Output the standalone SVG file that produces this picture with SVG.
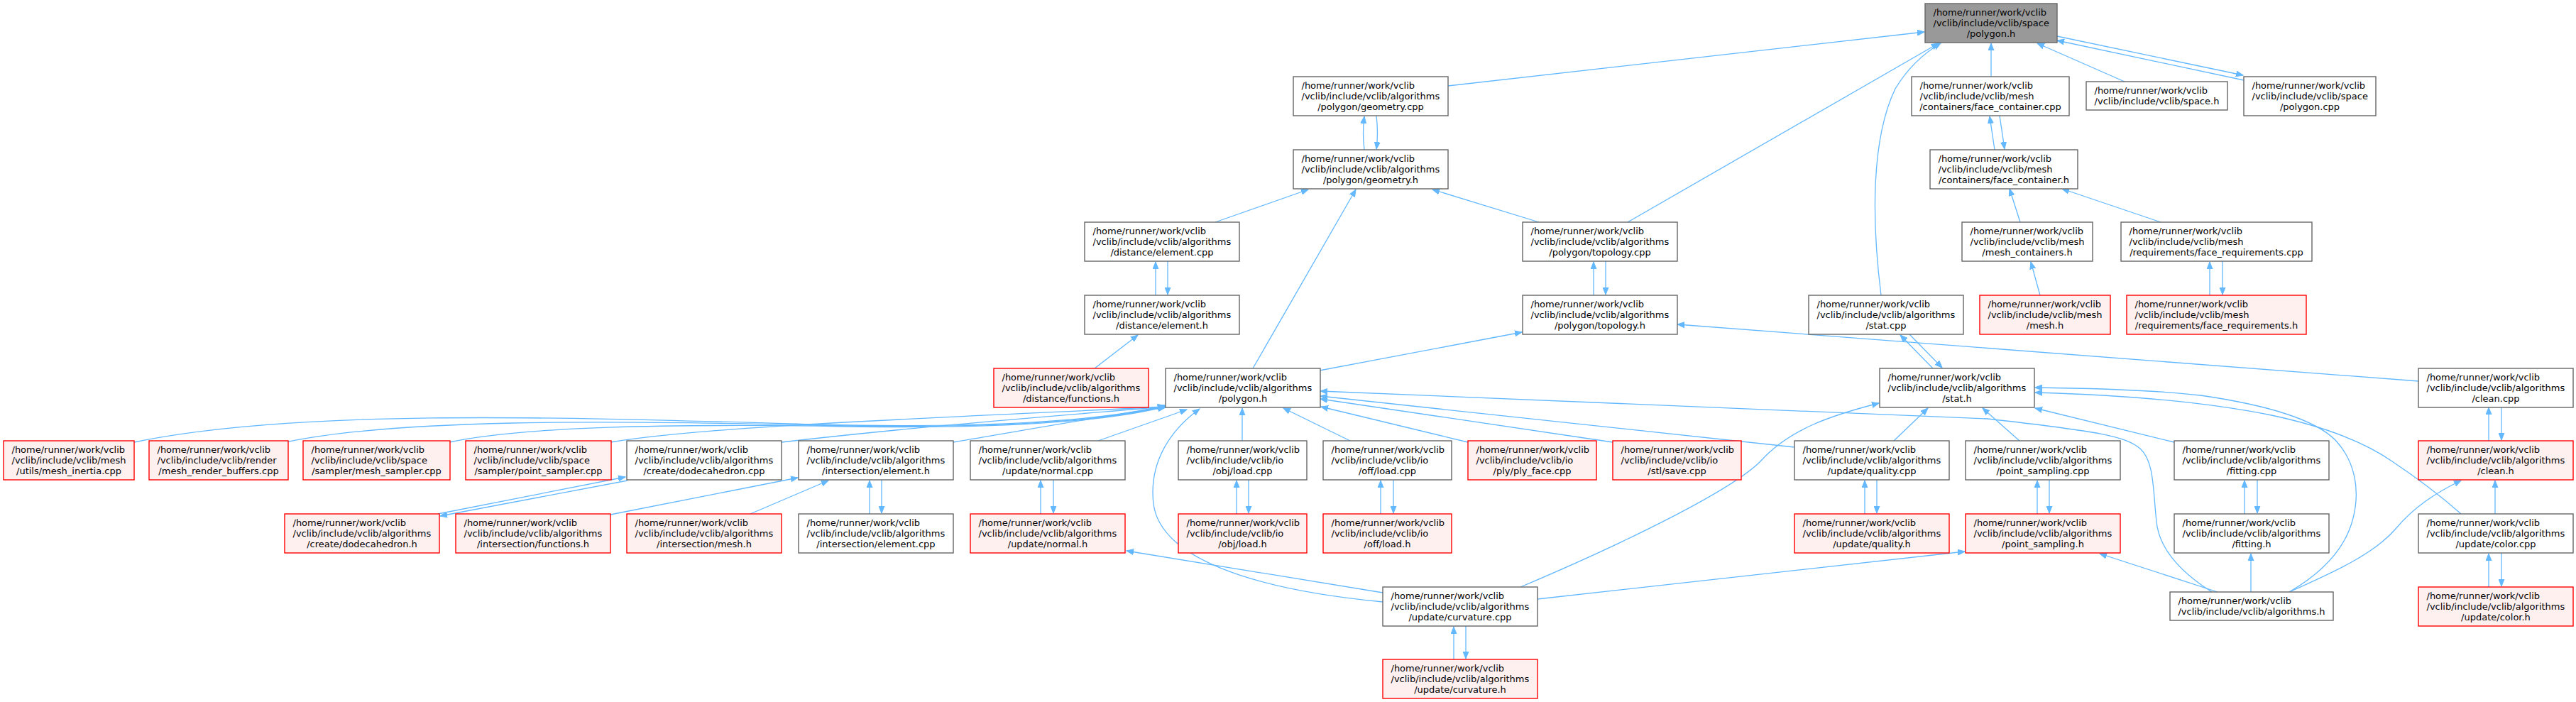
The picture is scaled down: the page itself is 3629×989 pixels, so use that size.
<svg xmlns="http://www.w3.org/2000/svg" width="3629" height="989" viewBox="0 0 3629 989">
<defs>
<marker id="ah" markerWidth="11" markerHeight="9" refX="10" refY="4.5" orient="auto" markerUnits="userSpaceOnUse"><path d="M0,0.5 L10,4.5 L0,8.5 z" fill="#63b8ff" stroke="#63b8ff" stroke-width="1"/></marker>
</defs>
<style>
.e{fill:none;stroke:#63b8ff;stroke-width:1.3;marker-end:url(#ah)}
rect.w{fill:#ffffff;stroke:#666666;stroke-width:1.4}
rect.r{fill:#fff0f0;stroke:#ff0000;stroke-width:1.4}
rect.g{fill:#999999;stroke:#666666;stroke-width:1.4}
text{font-family:"DejaVu Sans","Liberation Sans",sans-serif;font-size:13px;fill:#000000}
.c{text-anchor:middle}
</style>
<rect x="0" y="0" width="3629" height="989" fill="#ffffff"/>
<g id="edges">
<path class="e" d="M2040,121 L2711,45"/>
<path class="e" d="M2805,108 L2805,61"/>
<path class="e" d="M2993,115 L2870,61"/>
<path class="e" d="M2898,51 L3160,106"/>
<path class="e" d="M3161,113 L2898,57"/>
<path class="e" d="M2293,313 L2731,61"/>
<path class="e" d="M2650,416 C2638,320 2634,200 2670,125 C2690,92 2712,74 2734,61"/>
<path class="e" d="M1922,211 C1920,195 1920,180 1922,164"/>
<path class="e" d="M1939,163 C1941,180 1941,195 1939,210"/>
<path class="e" d="M1712,313 L1843,267"/>
<path class="e" d="M2168,313 L2018,267"/>
<path class="e" d="M1765,519 L1910,267"/>
<path class="e" d="M1628,416 L1628,369"/>
<path class="e" d="M1645,368 L1645,415"/>
<path class="e" d="M1542,519 L1603,472"/>
<path class="e" d="M2245,416 L2245,369"/>
<path class="e" d="M2262,368 L2262,415"/>
<path class="e" d="M1859,522 L2144,468"/>
<path class="e" d="M3407,537 L2363,457"/>
<path class="e" d="M2810,211 L2803,164"/>
<path class="e" d="M2817,163 L2824,210"/>
<path class="e" d="M2846,313 L2831,266"/>
<path class="e" d="M3044,313 L2905,266"/>
<path class="e" d="M2874,416 L2861,369"/>
<path class="e" d="M3113,416 L3113,369"/>
<path class="e" d="M3131,368 L3131,415"/>
<path class="e" d="M2723,519 L2677,472"/>
<path class="e" d="M2690,471 L2736,518"/>
<path class="e" d="M189,623 C420,575 800,588 1150,598 C1400,604 1560,592 1641,571"/>
<path class="e" d="M402,623 C560,590 850,592 1150,599 C1400,605 1560,593 1641,572"/>
<path class="e" d="M633,623 C740,600 950,598 1150,600 C1400,606 1560,594 1641,573"/>
<path class="e" d="M860,623 C1000,600 1300,590 1641,573"/>
<path class="e" d="M1101,623 C1300,600 1500,585 1641,573"/>
<path class="e" d="M1343,623 C1450,605 1560,585 1642,574"/>
<path class="e" d="M1547,621 L1672,577"/>
<path class="e" d="M1750,621 L1750,575"/>
<path class="e" d="M1948,848 C1760,830 1635,785 1625,710 C1618,650 1650,605 1690,576"/>
<path class="e" d="M1902,621 L1808,575"/>
<path class="e" d="M2068,623 L1861,573"/>
<path class="e" d="M2272,623 L1860,562"/>
<path class="e" d="M2528,630 L1860,558"/>
<path class="e" d="M3116,834 C3075,808 3042,775 3038,735 C3033,690 3035,650 3015,632 C2995,615 2960,608 2800,590 L1860,551"/>
<path class="e" d="M2668,621 L2716,575"/>
<path class="e" d="M2142,827 C2300,760 2440,690 2480,650 C2520,605 2580,585 2647,568"/>
<path class="e" d="M2845,621 L2793,575"/>
<path class="e" d="M3063,623 L2867,575"/>
<path class="e" d="M3225,834 C3275,805 3305,770 3315,730 C3325,690 3318,650 3290,620 C3260,590 3190,570 3100,557 C3040,550 2950,547 2867,546"/>
<path class="e" d="M3467,724 C3440,700 3400,670 3370,650 C3330,622 3270,600 3200,585 C3100,565 2980,556 2867,553"/>
<path class="e" d="M3506,621 L3506,574"/>
<path class="e" d="M3524,573 L3524,620"/>
<path class="e" d="M3515,724 L3515,677"/>
<path class="e" d="M3225,834 C3290,805 3345,780 3375,745 C3400,715 3430,695 3467,677"/>
<path class="e" d="M3506,827 L3506,780"/>
<path class="e" d="M3524,779 L3524,826"/>
<path class="e" d="M2870,724 L2870,677"/>
<path class="e" d="M2887,676 L2887,723"/>
<path class="e" d="M3162,724 L3162,677"/>
<path class="e" d="M3180,676 L3180,723"/>
<path class="e" d="M3171,834 L3171,780"/>
<path class="e" d="M3124,834 L2958,780"/>
<path class="e" d="M2166,844 L2768,777"/>
<path class="e" d="M1948,835 L1587,776"/>
<path class="e" d="M2048,929 L2048,883"/>
<path class="e" d="M2065,882 L2065,928"/>
<path class="e" d="M2627,724 L2627,677"/>
<path class="e" d="M2644,676 L2644,723"/>
<path class="e" d="M1945,724 L1945,677"/>
<path class="e" d="M1963,676 L1963,723"/>
<path class="e" d="M1742,724 L1742,677"/>
<path class="e" d="M1759,676 L1759,723"/>
<path class="e" d="M1466,724 L1466,677"/>
<path class="e" d="M1484,676 L1484,723"/>
<path class="e" d="M1225,724 L1225,677"/>
<path class="e" d="M1242,676 L1242,723"/>
<path class="e" d="M1057,724 L1167,677"/>
<path class="e" d="M860,725 L1124,673"/>
<path class="e" d="M617,724 L881,672"/>
<path class="e" d="M884,677 L620,727"/>
</g>
<g id="n0"><rect class="g" x="2712" y="5" width="186" height="55"/><text x="2723.5" y="21.5">/home/runner/work/vclib</text><text x="2723.5" y="36.5">/vclib/include/vclib/space</text><text class="c" x="2805" y="51.5">/polygon.h</text></g>
<g id="n1"><rect class="w" x="1822" y="108" width="218" height="55"/><text x="1833.5" y="124.5">/home/runner/work/vclib</text><text x="1833.5" y="139.5">/vclib/include/vclib/algorithms</text><text class="c" x="1931" y="154.5">/polygon/geometry.cpp</text></g>
<g id="n2"><rect class="w" x="2693" y="108" width="222" height="55"/><text x="2704.5" y="124.5">/home/runner/work/vclib</text><text x="2704.5" y="139.5">/vclib/include/vclib/mesh</text><text class="c" x="2804" y="154.5">/containers/face_container.cpp</text></g>
<g id="n3"><rect class="w" x="2939" y="115" width="199" height="40"/><text x="2950.5" y="131.5">/home/runner/work/vclib</text><text class="c" x="3038.5" y="146.5">/vclib/include/vclib/space.h</text></g>
<g id="n4"><rect class="w" x="3161" y="108" width="186" height="55"/><text x="3172.5" y="124.5">/home/runner/work/vclib</text><text x="3172.5" y="139.5">/vclib/include/vclib/space</text><text class="c" x="3254" y="154.5">/polygon.cpp</text></g>
<g id="n5"><rect class="w" x="1822" y="211" width="218" height="55"/><text x="1833.5" y="227.5">/home/runner/work/vclib</text><text x="1833.5" y="242.5">/vclib/include/vclib/algorithms</text><text class="c" x="1931" y="257.5">/polygon/geometry.h</text></g>
<g id="n6"><rect class="w" x="2719" y="211" width="208" height="55"/><text x="2730.5" y="227.5">/home/runner/work/vclib</text><text x="2730.5" y="242.5">/vclib/include/vclib/mesh</text><text class="c" x="2823" y="257.5">/containers/face_container.h</text></g>
<g id="n7"><rect class="w" x="1528" y="313" width="218" height="55"/><text x="1539.5" y="329.5">/home/runner/work/vclib</text><text x="1539.5" y="344.5">/vclib/include/vclib/algorithms</text><text class="c" x="1637" y="359.5">/distance/element.cpp</text></g>
<g id="n8"><rect class="w" x="2145" y="313" width="218" height="55"/><text x="2156.5" y="329.5">/home/runner/work/vclib</text><text x="2156.5" y="344.5">/vclib/include/vclib/algorithms</text><text class="c" x="2254" y="359.5">/polygon/topology.cpp</text></g>
<g id="n9"><rect class="w" x="2764" y="313" width="184" height="55"/><text x="2775.5" y="329.5">/home/runner/work/vclib</text><text x="2775.5" y="344.5">/vclib/include/vclib/mesh</text><text class="c" x="2856" y="359.5">/mesh_containers.h</text></g>
<g id="n10"><rect class="w" x="2988" y="313" width="269" height="55"/><text x="2999.5" y="329.5">/home/runner/work/vclib</text><text x="2999.5" y="344.5">/vclib/include/vclib/mesh</text><text class="c" x="3122.5" y="359.5">/requirements/face_requirements.cpp</text></g>
<g id="n11"><rect class="w" x="1528" y="416" width="218" height="55"/><text x="1539.5" y="432.5">/home/runner/work/vclib</text><text x="1539.5" y="447.5">/vclib/include/vclib/algorithms</text><text class="c" x="1637" y="462.5">/distance/element.h</text></g>
<g id="n12"><rect class="w" x="2145" y="416" width="218" height="55"/><text x="2156.5" y="432.5">/home/runner/work/vclib</text><text x="2156.5" y="447.5">/vclib/include/vclib/algorithms</text><text class="c" x="2254" y="462.5">/polygon/topology.h</text></g>
<g id="n13"><rect class="w" x="2548" y="416" width="218" height="55"/><text x="2559.5" y="432.5">/home/runner/work/vclib</text><text x="2559.5" y="447.5">/vclib/include/vclib/algorithms</text><text class="c" x="2657" y="462.5">/stat.cpp</text></g>
<g id="n14"><rect class="r" x="2789" y="416" width="184" height="55"/><text x="2800.5" y="432.5">/home/runner/work/vclib</text><text x="2800.5" y="447.5">/vclib/include/vclib/mesh</text><text class="c" x="2881" y="462.5">/mesh.h</text></g>
<g id="n15"><rect class="r" x="2996" y="416" width="253" height="55"/><text x="3007.5" y="432.5">/home/runner/work/vclib</text><text x="3007.5" y="447.5">/vclib/include/vclib/mesh</text><text class="c" x="3122.5" y="462.5">/requirements/face_requirements.h</text></g>
<g id="n16"><rect class="r" x="1400" y="519" width="218" height="55"/><text x="1411.5" y="535.5">/home/runner/work/vclib</text><text x="1411.5" y="550.5">/vclib/include/vclib/algorithms</text><text class="c" x="1509" y="565.5">/distance/functions.h</text></g>
<g id="n17"><rect class="w" x="1642" y="519" width="218" height="55"/><text x="1653.5" y="535.5">/home/runner/work/vclib</text><text x="1653.5" y="550.5">/vclib/include/vclib/algorithms</text><text class="c" x="1751" y="565.5">/polygon.h</text></g>
<g id="n18"><rect class="w" x="2648" y="519" width="218" height="55"/><text x="2659.5" y="535.5">/home/runner/work/vclib</text><text x="2659.5" y="550.5">/vclib/include/vclib/algorithms</text><text class="c" x="2757" y="565.5">/stat.h</text></g>
<g id="n19"><rect class="w" x="3407" y="519" width="218" height="55"/><text x="3418.5" y="535.5">/home/runner/work/vclib</text><text x="3418.5" y="550.5">/vclib/include/vclib/algorithms</text><text class="c" x="3516" y="565.5">/clean.cpp</text></g>
<g id="n20"><rect class="r" x="5" y="621" width="184" height="55"/><text x="16.5" y="637.5">/home/runner/work/vclib</text><text x="16.5" y="652.5">/vclib/include/vclib/mesh</text><text class="c" x="97" y="667.5">/utils/mesh_inertia.cpp</text></g>
<g id="n21"><rect class="r" x="210" y="621" width="196" height="55"/><text x="221.5" y="637.5">/home/runner/work/vclib</text><text x="221.5" y="652.5">/vclib/include/vclib/render</text><text class="c" x="308" y="667.5">/mesh_render_buffers.cpp</text></g>
<g id="n22"><rect class="r" x="427" y="621" width="207" height="55"/><text x="438.5" y="637.5">/home/runner/work/vclib</text><text x="438.5" y="652.5">/vclib/include/vclib/space</text><text class="c" x="530.5" y="667.5">/sampler/mesh_sampler.cpp</text></g>
<g id="n23"><rect class="r" x="656" y="621" width="205" height="55"/><text x="667.5" y="637.5">/home/runner/work/vclib</text><text x="667.5" y="652.5">/vclib/include/vclib/space</text><text class="c" x="758.5" y="667.5">/sampler/point_sampler.cpp</text></g>
<g id="n24"><rect class="w" x="883" y="621" width="218" height="55"/><text x="894.5" y="637.5">/home/runner/work/vclib</text><text x="894.5" y="652.5">/vclib/include/vclib/algorithms</text><text class="c" x="992" y="667.5">/create/dodecahedron.cpp</text></g>
<g id="n25"><rect class="w" x="1125" y="621" width="218" height="55"/><text x="1136.5" y="637.5">/home/runner/work/vclib</text><text x="1136.5" y="652.5">/vclib/include/vclib/algorithms</text><text class="c" x="1234" y="667.5">/intersection/element.h</text></g>
<g id="n26"><rect class="w" x="1367" y="621" width="218" height="55"/><text x="1378.5" y="637.5">/home/runner/work/vclib</text><text x="1378.5" y="652.5">/vclib/include/vclib/algorithms</text><text class="c" x="1476" y="667.5">/update/normal.cpp</text></g>
<g id="n27"><rect class="w" x="1660" y="621" width="181" height="55"/><text x="1671.5" y="637.5">/home/runner/work/vclib</text><text x="1671.5" y="652.5">/vclib/include/vclib/io</text><text class="c" x="1750.5" y="667.5">/obj/load.cpp</text></g>
<g id="n28"><rect class="w" x="1864" y="621" width="181" height="55"/><text x="1875.5" y="637.5">/home/runner/work/vclib</text><text x="1875.5" y="652.5">/vclib/include/vclib/io</text><text class="c" x="1954.5" y="667.5">/off/load.cpp</text></g>
<g id="n29"><rect class="r" x="2068" y="621" width="181" height="55"/><text x="2079.5" y="637.5">/home/runner/work/vclib</text><text x="2079.5" y="652.5">/vclib/include/vclib/io</text><text class="c" x="2158.5" y="667.5">/ply/ply_face.cpp</text></g>
<g id="n30"><rect class="r" x="2272" y="621" width="181" height="55"/><text x="2283.5" y="637.5">/home/runner/work/vclib</text><text x="2283.5" y="652.5">/vclib/include/vclib/io</text><text class="c" x="2362.5" y="667.5">/stl/save.cpp</text></g>
<g id="n31"><rect class="w" x="2528" y="621" width="218" height="55"/><text x="2539.5" y="637.5">/home/runner/work/vclib</text><text x="2539.5" y="652.5">/vclib/include/vclib/algorithms</text><text class="c" x="2637" y="667.5">/update/quality.cpp</text></g>
<g id="n32"><rect class="w" x="2769" y="621" width="218" height="55"/><text x="2780.5" y="637.5">/home/runner/work/vclib</text><text x="2780.5" y="652.5">/vclib/include/vclib/algorithms</text><text class="c" x="2878" y="667.5">/point_sampling.cpp</text></g>
<g id="n33"><rect class="w" x="3063" y="621" width="218" height="55"/><text x="3074.5" y="637.5">/home/runner/work/vclib</text><text x="3074.5" y="652.5">/vclib/include/vclib/algorithms</text><text class="c" x="3172" y="667.5">/fitting.cpp</text></g>
<g id="n34"><rect class="r" x="3407" y="621" width="218" height="55"/><text x="3418.5" y="637.5">/home/runner/work/vclib</text><text x="3418.5" y="652.5">/vclib/include/vclib/algorithms</text><text class="c" x="3516" y="667.5">/clean.h</text></g>
<g id="n35"><rect class="r" x="401" y="724" width="218" height="55"/><text x="412.5" y="740.5">/home/runner/work/vclib</text><text x="412.5" y="755.5">/vclib/include/vclib/algorithms</text><text class="c" x="510" y="770.5">/create/dodecahedron.h</text></g>
<g id="n36"><rect class="r" x="642" y="724" width="218" height="55"/><text x="653.5" y="740.5">/home/runner/work/vclib</text><text x="653.5" y="755.5">/vclib/include/vclib/algorithms</text><text class="c" x="751" y="770.5">/intersection/functions.h</text></g>
<g id="n37"><rect class="r" x="883" y="724" width="218" height="55"/><text x="894.5" y="740.5">/home/runner/work/vclib</text><text x="894.5" y="755.5">/vclib/include/vclib/algorithms</text><text class="c" x="992" y="770.5">/intersection/mesh.h</text></g>
<g id="n38"><rect class="w" x="1125" y="724" width="218" height="55"/><text x="1136.5" y="740.5">/home/runner/work/vclib</text><text x="1136.5" y="755.5">/vclib/include/vclib/algorithms</text><text class="c" x="1234" y="770.5">/intersection/element.cpp</text></g>
<g id="n39"><rect class="r" x="1367" y="724" width="218" height="55"/><text x="1378.5" y="740.5">/home/runner/work/vclib</text><text x="1378.5" y="755.5">/vclib/include/vclib/algorithms</text><text class="c" x="1476" y="770.5">/update/normal.h</text></g>
<g id="n40"><rect class="r" x="1660" y="724" width="181" height="55"/><text x="1671.5" y="740.5">/home/runner/work/vclib</text><text x="1671.5" y="755.5">/vclib/include/vclib/io</text><text class="c" x="1750.5" y="770.5">/obj/load.h</text></g>
<g id="n41"><rect class="r" x="1864" y="724" width="181" height="55"/><text x="1875.5" y="740.5">/home/runner/work/vclib</text><text x="1875.5" y="755.5">/vclib/include/vclib/io</text><text class="c" x="1954.5" y="770.5">/off/load.h</text></g>
<g id="n42"><rect class="r" x="2528" y="724" width="218" height="55"/><text x="2539.5" y="740.5">/home/runner/work/vclib</text><text x="2539.5" y="755.5">/vclib/include/vclib/algorithms</text><text class="c" x="2637" y="770.5">/update/quality.h</text></g>
<g id="n43"><rect class="r" x="2769" y="724" width="218" height="55"/><text x="2780.5" y="740.5">/home/runner/work/vclib</text><text x="2780.5" y="755.5">/vclib/include/vclib/algorithms</text><text class="c" x="2878" y="770.5">/point_sampling.h</text></g>
<g id="n44"><rect class="w" x="3063" y="724" width="218" height="55"/><text x="3074.5" y="740.5">/home/runner/work/vclib</text><text x="3074.5" y="755.5">/vclib/include/vclib/algorithms</text><text class="c" x="3172" y="770.5">/fitting.h</text></g>
<g id="n45"><rect class="w" x="3407" y="724" width="218" height="55"/><text x="3418.5" y="740.5">/home/runner/work/vclib</text><text x="3418.5" y="755.5">/vclib/include/vclib/algorithms</text><text class="c" x="3516" y="770.5">/update/color.cpp</text></g>
<g id="n46"><rect class="w" x="1948" y="827" width="218" height="55"/><text x="1959.5" y="843.5">/home/runner/work/vclib</text><text x="1959.5" y="858.5">/vclib/include/vclib/algorithms</text><text class="c" x="2057" y="873.5">/update/curvature.cpp</text></g>
<g id="n47"><rect class="w" x="3057" y="834" width="230" height="40"/><text x="3068.5" y="850.5">/home/runner/work/vclib</text><text class="c" x="3172" y="865.5">/vclib/include/vclib/algorithms.h</text></g>
<g id="n48"><rect class="r" x="3407" y="827" width="218" height="55"/><text x="3418.5" y="843.5">/home/runner/work/vclib</text><text x="3418.5" y="858.5">/vclib/include/vclib/algorithms</text><text class="c" x="3516" y="873.5">/update/color.h</text></g>
<g id="n49"><rect class="r" x="1948" y="929" width="218" height="55"/><text x="1959.5" y="945.5">/home/runner/work/vclib</text><text x="1959.5" y="960.5">/vclib/include/vclib/algorithms</text><text class="c" x="2057" y="975.5">/update/curvature.h</text></g>
</svg>
